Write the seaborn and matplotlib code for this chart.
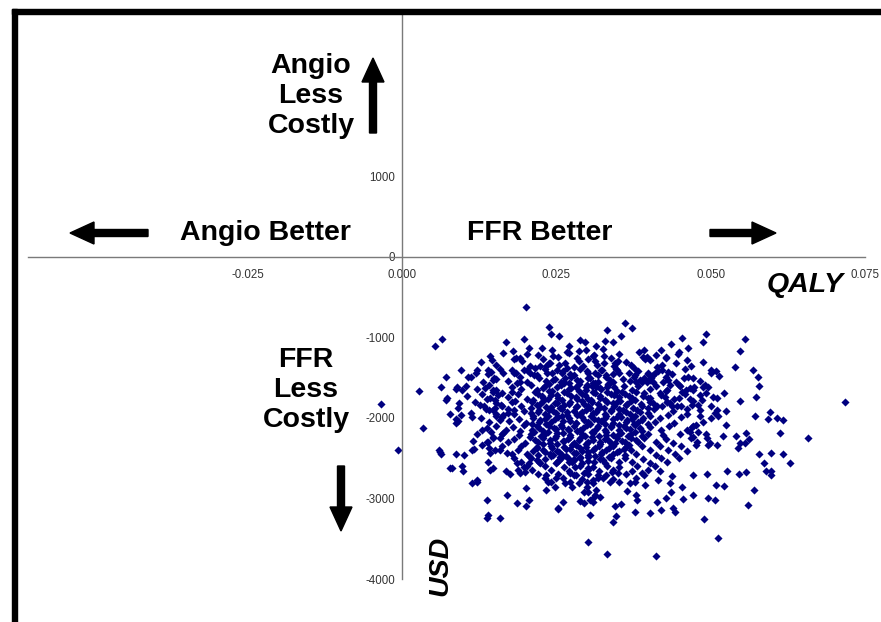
import matplotlib
matplotlib.use("Agg")
import matplotlib.pyplot as plt
import seaborn as sns
import pandas as pd
from matplotlib.patches import FancyArrow, Rectangle
from matplotlib.transforms import IdentityTransform
from matplotlib.ticker import FixedLocator

# --- data (incremental QALY, incremental cost USD) ---
# sparse points, top
top_qaly = [0.0200, 0.0238, 0.0361, 0.0373, 0.0332, 0.0241, 0.0255, 0.0355, 0.0492, 0.0198, 0.0169,
            0.0064, 0.0053, 0.0288, 0.0297, 0.0342, 0.0328, 0.0454, 0.0487, 0.0435, 0.0555]
top_usd = [-625, -878, -828, -882, -910, -960, -985, -985, -960, -1018, -1060,
           -1027, -1105, -1031, -1060, -1060, -1040, -1015, -1064, -1085, -1018]

upper_qaly = [0.0180, 0.0463, 0.0449, 0.0547, 0.0392, 0.0420, 0.0325, 0.0181, 0.0191, 0.0205,
              0.0203, 0.0227, 0.0229, 0.0243, 0.0244, 0.0240, 0.0224, 0.0270, 0.0271, 0.0264,
              0.0267, 0.0284, 0.0287, 0.0298, 0.0293, 0.0314, 0.0311, 0.0313, 0.0143, 0.0146,
              0.0390, 0.0397, 0.0427, 0.0462, 0.0327, 0.0540, 0.0421, 0.0350, 0.0345, 0.0346]
upper_usd = [-1168, -1130, -1184, -1172, -1159, -1155, -1146, -1271, -1259, -1134,
             -1205, -1134, -1271, -1155, -1238, -1321, -1362, -1114, -1196, -1321,
             -1383, -1259, -1176, -1155, -1362, -1114, -1217, -1300, -1230, -1288,
             -1250, -1250, -1259, -1288, -1230, -1366, -1341, -1300, -1321, -1313]

right_qaly = [0.0569, 0.0577, 0.0579, 0.0573, 0.0548, 0.0571, 0.0596, 0.0593, 0.0608, 0.0617,
              0.0613, 0.0658, 0.0717, 0.0500, 0.0501, 0.0513, 0.0491, 0.0495, 0.0511, 0.0501,
              0.0525, 0.0507, 0.0512, 0.0524, 0.0541, 0.0558, 0.0562, 0.0556, 0.0483, 0.0477,
              0.0469, 0.0494, 0.0496, 0.0511]
right_usd = [-1403, -1494, -1602, -1735, -1789, -1975, -1929, -2016, -2000, -2021,
             -2186, -2244, -1805, -1407, -1445, -1478, -1594, -1611, -1755, -1859,
             -1909, -1941, -1983, -2090, -2223, -2182, -2260, -2314, -1983, -2087,
             -2108, -2252, -2335, -2335]

midright_qaly = [0.0456, 0.0464, 0.0443, 0.0434, 0.0429, 0.0450, 0.0460, 0.0467, 0.0473, 0.0449,
                 0.0466, 0.0483, 0.0445, 0.0462, 0.0469, 0.0415, 0.0407, 0.0402, 0.0431, 0.0431,
                 0.0375, 0.0378, 0.0386, 0.0348, 0.0375, 0.0388, 0.0379, 0.0399, 0.0403, 0.0407,
                 0.0410, 0.0418, 0.0426, 0.0429, 0.0434, 0.0437, 0.0402, 0.0407, 0.0413, 0.0453,
                 0.0493, 0.0486, 0.0480, 0.0510]
midright_usd = [-1507, -1494, -1549, -1590, -1652, -1602, -1652, -1631, -1619, -1755,
                -1768, -1714, -1859, -1892, -1838, -1424, -1466, -1528, -1437, -1528,
                -1383, -1466, -1528, -1403, -1487, -1549, -1549, -1445, -1507, -1549,
                -1445, -1686, -1735, -1797, -1817, -1859, -1755, -1817, -1859, -1673,
                -1693, -1776, -1838, -1900]

left_qaly = [-0.0034, 0.0028, 0.0034, 0.0063, 0.0071, 0.0073, 0.0071, 0.0078, 0.0087, 0.0090,
             0.0089, 0.0087, 0.0096, 0.0093, 0.0097, 0.0106, 0.0107, 0.0119, 0.0111, 0.0113,
             0.0115, 0.0127, 0.0134, 0.0137, 0.0136, 0.0140, 0.0144, 0.0148, 0.0147, 0.0151,
             0.0153, 0.0158, 0.0137, 0.0144, 0.0148, 0.0153, 0.0164, 0.0091, 0.0095, 0.0148,
             0.0151, 0.0156, 0.0148, 0.0162, 0.0164, 0.0172, 0.0178, 0.0181]
left_usd = [-1826, -1668, -2132, -1618, -1487, -1755, -1780, -1950, -2012, -2045,
            -1611, -1640, -1403, -1817, -1660, -1726, -1494, -1445, -1941, -1991,
            -2282, -1838, -1631, -1764, -1888, -1403, -1437, -1528, -1652, -1879,
            -1983, -2025, -2128, -2174, -2232, -1519, -1445, -1879, -1962, -1673,
            -1776, -1714, -1900, -1859, -1962, -1941, -1797, -1900]

center_qaly = [0.0178, 0.0185, 0.0186, 0.0178, 0.0191, 0.0202, 0.0207, 0.0215, 0.0218, 0.0233,
               0.0235, 0.0251, 0.0259, 0.0257, 0.0245, 0.0264, 0.0271, 0.0278, 0.0283, 0.0299,
               0.0305, 0.0299, 0.0313, 0.0318, 0.0315, 0.0324, 0.0331, 0.0337, 0.0332, 0.0352]
center_usd = [-1403, -1445, -1569, -1673, -1549, -1403, -1445, -1383, -1466, -1362,
              -1445, -1403, -1445, -1549, -1528, -1507, -1569, -1466, -1528, -1424,
              -1507, -1590, -1445, -1549, -1611, -1403, -1466, -1528, -1611, -1445]

lowleft_qaly = [0.0087, 0.0062, 0.0087, 0.0100, 0.0116, 0.0129, 0.0137, 0.0141, 0.0143, 0.0151,
                0.0159, 0.0164, 0.0081, 0.0097, 0.0099, 0.0113, 0.0121, 0.0122, 0.0140, 0.0143,
                0.0147, 0.0170, 0.0169, 0.0175, 0.0186, 0.0188, 0.0191, 0.0198, 0.0199, 0.0205,
                0.0205, 0.0218, 0.0224, -0.0007, 0.0060, 0.0063, 0.0114, 0.0077]
lowleft_usd = [-2058, -2418, -2447, -2455, -2385, -2335, -2294, -2376, -2438, -2397,
               -2252, -2190, -2617, -2596, -2654, -2803, -2770, -2798, -2542, -2645,
               -2617, -2438, -2654, -2695, -2555, -2645, -2687, -2604, -2666, -2472,
               -2562, -2521, -2562, -2401, -2405, -2451, -2397, -2625]

bottom_qaly = [0.0137, 0.0170, 0.0186, 0.0201, 0.0205, 0.0137, 0.0158, 0.0139, 0.0234, 0.0237,
               0.0233, 0.0248, 0.0250, 0.0253, 0.0261, 0.0264, 0.0275, 0.0272, 0.0278, 0.0286,
               0.0288, 0.0294, 0.0299, 0.0302, 0.0310, 0.0313, 0.0315, 0.0310, 0.0318, 0.0302,
               0.0305, 0.0245, 0.0251, 0.0256, 0.0269, 0.0275, 0.0280, 0.0288, 0.0294, 0.0299,
               0.0200, 0.0301, 0.0332, 0.0342, 0.0252, 0.0294, 0.0304, 0.0310, 0.0320, 0.0345]
bottom_usd = [-3018, -2956, -3052, -2873, -3018, -3245, -3245, -3200, -2708, -2791,
              -2894, -2853, -2749, -3121, -3039, -2811, -2853, -2687, -2708, -2811,
              -3031, -2915, -2853, -2915, -3039, -2956, -2894, -2770, -2708, -2625,
              -3204, -2459, -2542, -2480, -2500, -2542, -2604, -2500, -2687, -2791,
              -3089, -3536, -3689, -3287, -3130, -3060, -3018, -2997, -2977, -3093]

lowright_qaly = [0.0617, 0.0629, 0.0598, 0.0587, 0.0589, 0.0597, 0.0597, 0.0578, 0.0547, 0.0545,
                 0.0558, 0.0546, 0.0526, 0.0522, 0.0508, 0.0570, 0.0561, 0.0520, 0.0499, 0.0480,
                 0.0477, 0.0471, 0.0467, 0.0494, 0.0472, 0.0472, 0.0495, 0.0507, 0.0489, 0.0512,
                 0.0453, 0.0455, 0.0439, 0.0436, 0.0428, 0.0412, 0.0346, 0.0378, 0.0402, 0.0413,
                 0.0419, 0.0355, 0.0364, 0.0379, 0.0380, 0.0394, 0.0388, 0.0415, 0.0418, 0.0434,
                 0.0437, 0.0442, 0.0325, 0.0337, 0.0340, 0.0350, 0.0369, 0.0378]
lowright_usd = [-2447, -2555, -2430, -2555, -2654, -2654, -2708, -2451, -2314, -2376,
                -2666, -2699, -2658, -2844, -2836, -2894, -3076, -2223, -2314, -2170,
                -2335, -2232, -2170, -2699, -2708, -2956, -2989, -3018, -3250, -3490,
                -2861, -3006, -3121, -2915, -2997, -3710, -3217, -3167, -3176, -3039,
                -3142, -3068, -2906, -2956, -3018, -2832, -2687, -2770, -2654, -2811,
                -2716, -3163, -2749, -2791, -2666, -2687, -2811, -2791]

# dense core of the cloud, estimated row by row
core_qaly = [
    0.0163, 0.0221, 0.0268, 0.0309, 0.0352, 0.0384, 0.0412, 0.0447,
    0.0184, 0.0252, 0.0301, 0.0338, 0.0393, 0.0428,
    0.0128, 0.0194, 0.0238, 0.0286, 0.0327, 0.0362, 0.0401, 0.0444, 0.0487,
    0.0152, 0.0208, 0.0254, 0.0279, 0.0316, 0.0343, 0.0371, 0.0413, 0.0468,
    0.0121, 0.0158, 0.0197, 0.0232, 0.0261, 0.0288, 0.0322, 0.0347, 0.0383, 0.0421, 0.0459, 0.0508,
    0.0139, 0.0182, 0.0213, 0.0243, 0.0272, 0.0301, 0.0318, 0.0342, 0.0368, 0.0398, 0.0437,
    0.0112, 0.0149, 0.0191, 0.0222, 0.0248, 0.0273, 0.0302, 0.0331, 0.0358, 0.0392, 0.0428, 0.0471,
    0.0131, 0.0172, 0.0203, 0.0233, 0.0262, 0.0289, 0.0312, 0.0341, 0.0369, 0.0397, 0.0422, 0.0482,
    0.0103, 0.0141, 0.0178, 0.0209, 0.0231, 0.0258, 0.0281, 0.0307, 0.0333, 0.0359, 0.0382, 0.0412, 0.0449, 0.0488,
    0.0122, 0.0153, 0.0192, 0.0218, 0.0243, 0.0271, 0.0298, 0.0322, 0.0348, 0.0373, 0.0401, 0.0428, 0.0472,
    0.0129, 0.0162, 0.0188, 0.0221, 0.0242, 0.0268, 0.0292, 0.0313, 0.0339, 0.0361, 0.0392, 0.0419, 0.0458, 0.0521,
    0.0142, 0.0171, 0.0203, 0.0229, 0.0252, 0.0281, 0.0302, 0.0321, 0.0352, 0.0372, 0.0398, 0.0441, 0.0503,
    0.0118, 0.0152, 0.0183, 0.0211, 0.0229, 0.0251, 0.0272, 0.0291, 0.0308, 0.0332, 0.0349, 0.0371, 0.0402, 0.0429, 0.0472,
    0.0133, 0.0161, 0.0192, 0.0219, 0.0241, 0.0262, 0.0283, 0.0302, 0.0321, 0.0343, 0.0362, 0.0388, 0.0421, 0.0452,
    0.0141, 0.0172, 0.0198, 0.0222, 0.0238, 0.0259, 0.0279, 0.0298, 0.0318, 0.0339, 0.0358, 0.0381, 0.0408, 0.0439, 0.0482,
    0.0152, 0.0181, 0.0209, 0.0231, 0.0249, 0.0268, 0.0289, 0.0309, 0.0328, 0.0351, 0.0369, 0.0398, 0.0431, 0.0462,
    0.0128, 0.0162, 0.0189, 0.0212, 0.0231, 0.0252, 0.0271, 0.0292, 0.0311, 0.0329, 0.0348, 0.0372, 0.0391, 0.0418, 0.0452, 0.0501,
    0.0141, 0.0173, 0.0201, 0.0222, 0.0242, 0.0261, 0.0282, 0.0301, 0.0322, 0.0341, 0.0362, 0.0382, 0.0409, 0.0441, 0.0488,
    0.0152, 0.0179, 0.0198, 0.0219, 0.0238, 0.0259, 0.0278, 0.0299, 0.0318, 0.0338, 0.0359, 0.0378, 0.0402, 0.0432, 0.0471,
    0.0129, 0.0168, 0.0191, 0.0211, 0.0229, 0.0249, 0.0271, 0.0289, 0.0311, 0.0329, 0.0351, 0.0369, 0.0389, 0.0419, 0.0461,
    0.0121, 0.0162, 0.0189, 0.0209, 0.0232, 0.0251, 0.0272, 0.0291, 0.0309, 0.0331, 0.0352, 0.0371, 0.0398, 0.0422, 0.0451, 0.0492,
    0.0148, 0.0181, 0.0208, 0.0228, 0.0248, 0.0269, 0.0288, 0.0308, 0.0329, 0.0348, 0.0371, 0.0392, 0.0428, 0.0468,
    0.0139, 0.0171, 0.0199, 0.0221, 0.0239, 0.0261, 0.0279, 0.0302, 0.0321, 0.0339, 0.0361, 0.0382, 0.0411, 0.0439, 0.0478,
    0.0162, 0.0192, 0.0218, 0.0241, 0.0262, 0.0281, 0.0298, 0.0319, 0.0342, 0.0362, 0.0389, 0.0418, 0.0452,
    0.0158, 0.0188, 0.0212, 0.0229, 0.0251, 0.0272, 0.0292, 0.0309, 0.0331, 0.0352, 0.0371, 0.0402, 0.0431, 0.0462,
    0.0178, 0.0202, 0.0221, 0.0239, 0.0259, 0.0282, 0.0301, 0.0322, 0.0341, 0.0361, 0.0379, 0.0412, 0.0442,
    0.0182, 0.0209, 0.0232, 0.0258, 0.0279, 0.0302, 0.0321, 0.0339, 0.0361, 0.0391, 0.0419, 0.0449,
    0.0193, 0.0222, 0.0249, 0.0271, 0.0292, 0.0311, 0.0329, 0.0352, 0.0372, 0.0401, 0.0429,
    0.0202, 0.0231, 0.0262, 0.0288, 0.0309, 0.0332, 0.0351, 0.0381, 0.0409,
    0.0211, 0.0242, 0.0271, 0.0301, 0.0319, 0.0342, 0.0372, 0.0398,
    0.0221, 0.0252, 0.0281, 0.0302, 0.0331, 0.0362, 0.0392,
    0.0232, 0.0261, 0.0292, 0.0318, 0.0341, 0.0379,
    0.0242, 0.0272, 0.0309, 0.0352,
]
core_usd = [
    -1190, -1215, -1180, -1232, -1205, -1188, -1220, -1210,
    -1262, -1240, -1275, -1255, -1268, -1245,
    -1310, -1295, -1322, -1290, -1315, -1302, -1288, -1320, -1305,
    -1345, -1362, -1338, -1370, -1350, -1358, -1342, -1365, -1352,
    -1405, -1392, -1412, -1398, -1420, -1388, -1409, -1395, -1415, -1402, -1390, -1418,
    -1455, -1440, -1462, -1448, -1458, -1442, -1465, -1450, -1445, -1460, -1452,
    -1498, -1510, -1492, -1505, -1515, -1495, -1508, -1490, -1512, -1502, -1496, -1506,
    -1555, -1542, -1560, -1548, -1558, -1545, -1562, -1550, -1540, -1557, -1552, -1546,
    -1605, -1595, -1612, -1598, -1608, -1590, -1615, -1602, -1594, -1610, -1600, -1606, -1592, -1613,
    -1648, -1660, -1642, -1655, -1665, -1645, -1658, -1640, -1662, -1652, -1646, -1663, -1650,
    -1702, -1692, -1710, -1698, -1712, -1695, -1705, -1690, -1708, -1700, -1694, -1711, -1703, -1697,
    -1755, -1745, -1760, -1748, -1758, -1742, -1762, -1750, -1744, -1757, -1752, -1761, -1746,
    -1798, -1810, -1792, -1805, -1795, -1812, -1800, -1790, -1808, -1797, -1806, -1793, -1809, -1802, -1796,
    -1852, -1842, -1858, -1846, -1860, -1844, -1855, -1848, -1862, -1850, -1843, -1857, -1849, -1859,
    -1902, -1893, -1910, -1898, -1906, -1890, -1912, -1900, -1895, -1908, -1897, -1904, -1892, -1909, -1899,
    -1948, -1958, -1942, -1955, -1945, -1960, -1950, -1940, -1957, -1947, -1953, -1944, -1959, -1951,
    -2002, -1992, -2010, -1998, -2008, -1995, -2005, -1990, -2012, -2000, -1994, -2009, -1997, -2006, -1991, -2004,
    -2052, -2045, -2060, -2048, -2056, -2042, -2058, -2050, -2044, -2062, -2049, -2055, -2046, -2059, -2051,
    -2098, -2108, -2092, -2105, -2095, -2110, -2100, -2090, -2106, -2097, -2103, -2094, -2109, -2099, -2102,
    -2152, -2145, -2158, -2148, -2160, -2142, -2155, -2150, -2162, -2146, -2153, -2144, -2157, -2149, -2156,
    -2202, -2195, -2210, -2198, -2206, -2192, -2208, -2200, -2194, -2212, -2199, -2204, -2196, -2209, -2201, -2197,
    -2248, -2258, -2243, -2255, -2246, -2260, -2250, -2242, -2257, -2247, -2253, -2244, -2259, -2251,
    -2302, -2295, -2310, -2298, -2306, -2292, -2308, -2300, -2294, -2311, -2299, -2304, -2296, -2309, -2301,
    -2352, -2345, -2358, -2348, -2356, -2342, -2360, -2350, -2344, -2357, -2349, -2355, -2346,
    -2402, -2395, -2410, -2398, -2406, -2392, -2408, -2400, -2394, -2411, -2399, -2404, -2396, -2409,
    -2452, -2445, -2458, -2448, -2456, -2442, -2460, -2450, -2444, -2457, -2449, -2455, -2446,
    -2502, -2495, -2510, -2498, -2506, -2492, -2508, -2500, -2494, -2511, -2499, -2504,
    -2552, -2545, -2558, -2548, -2556, -2542, -2560, -2550, -2544, -2557, -2549,
    -2602, -2595, -2610, -2598, -2606, -2592, -2608, -2600, -2594,
    -2652, -2645, -2658, -2648, -2656, -2642, -2660, -2650,
    -2702, -2695, -2710, -2698, -2706, -2692, -2708,
    -2752, -2745, -2758, -2748, -2756, -2742,
    -2802, -2795, -2810, -2798,
]

# the near-solid centre of the cloud
dense_qaly = [
    0.0238, 0.0263, 0.0286, 0.0309, 0.0333,
    0.0228, 0.0251, 0.0274, 0.0298, 0.0321, 0.0344,
    0.0215, 0.0238, 0.0262, 0.0286, 0.0309, 0.0332, 0.0356, 0.0379,
    0.0226, 0.0251, 0.0274, 0.0297, 0.0321, 0.0344, 0.0367, 0.0390,
    0.0212, 0.0236, 0.0259, 0.0283, 0.0306, 0.0329, 0.0353, 0.0377,
    0.0224, 0.0248, 0.0271, 0.0294, 0.0318, 0.0341, 0.0364, 0.0387,
    0.0209, 0.0233, 0.0256, 0.0281, 0.0304, 0.0327, 0.0351, 0.0374, 0.0398,
    0.0221, 0.0245, 0.0268, 0.0292, 0.0315, 0.0338, 0.0362, 0.0385,
    0.0212, 0.0236, 0.0259, 0.0284, 0.0306, 0.0331, 0.0354, 0.0377, 0.0401,
    0.0224, 0.0248, 0.0272, 0.0295, 0.0318, 0.0342, 0.0365, 0.0389,
    0.0211, 0.0234, 0.0258, 0.0281, 0.0305, 0.0328, 0.0352, 0.0375, 0.0398,
    0.0222, 0.0246, 0.0269, 0.0293, 0.0316, 0.0339, 0.0363, 0.0386,
    0.0213, 0.0237, 0.0261, 0.0284, 0.0307, 0.0331, 0.0354, 0.0378,
    0.0225, 0.0249, 0.0272, 0.0296, 0.0319, 0.0342, 0.0366, 0.0389,
    0.0216, 0.0239, 0.0263, 0.0286, 0.0309, 0.0333, 0.0356, 0.0379,
    0.0228, 0.0251, 0.0275, 0.0298, 0.0321, 0.0345, 0.0368,
    0.0219, 0.0243, 0.0266, 0.0289, 0.0313, 0.0336, 0.0359,
    0.0231, 0.0254, 0.0278, 0.0301, 0.0324, 0.0348,
    0.0242, 0.0266, 0.0289, 0.0312, 0.0336,
    0.0254, 0.0278, 0.0301, 0.0325,
]
dense_usd = [
    -1578, -1571, -1583, -1569, -1580,
    -1627, -1619, -1632, -1622, -1630, -1618,
    -1678, -1671, -1683, -1669, -1680, -1673, -1685, -1676,
    -1727, -1720, -1733, -1722, -1729, -1718, -1731, -1724,
    -1778, -1771, -1783, -1769, -1780, -1773, -1785, -1776,
    -1827, -1820, -1833, -1822, -1829, -1818, -1831, -1824,
    -1878, -1871, -1883, -1869, -1880, -1873, -1885, -1876, -1872,
    -1927, -1920, -1933, -1922, -1929, -1918, -1931, -1924,
    -1978, -1971, -1983, -1969, -1980, -1973, -1985, -1976, -1972,
    -2027, -2020, -2033, -2022, -2029, -2018, -2031, -2024,
    -2078, -2071, -2083, -2069, -2080, -2073, -2085, -2076, -2072,
    -2127, -2120, -2133, -2122, -2129, -2118, -2131, -2124,
    -2178, -2171, -2183, -2169, -2180, -2173, -2185, -2176,
    -2227, -2220, -2233, -2222, -2229, -2218, -2231, -2224,
    -2278, -2271, -2283, -2269, -2280, -2273, -2285, -2276,
    -2327, -2320, -2333, -2322, -2329, -2318, -2331,
    -2378, -2371, -2383, -2369, -2380, -2373, -2385,
    -2427, -2420, -2433, -2422, -2429, -2418,
    -2478, -2471, -2483, -2469, -2480,
    -2527, -2520, -2533, -2522,
]

x_ticks = [-0.025, 0.0, 0.025, 0.050, 0.075]
x_labels = ["-0.025", "0.000", "0.025", "0.050", "0.075"]
y_ticks = [-4000, -3000, -2000, -1000, 0, 1000]
y_labels = ["-4000", "-3000", "-2000", "-1000", "0", "1000"]
y_minor = [-3500, -2500, -1500, -500, 500]

qaly = (top_qaly + upper_qaly + right_qaly + midright_qaly + left_qaly + center_qaly
        + lowleft_qaly + bottom_qaly + lowright_qaly + core_qaly + dense_qaly)
usd = (top_usd + upper_usd + right_usd + midright_usd + left_usd + center_usd
       + lowleft_usd + bottom_usd + lowright_usd + core_usd + dense_usd)
df = pd.DataFrame({"qaly": qaly, "usd": usd})

sns.set_style("white")
plt.rcParams["font.family"] = ["Liberation Sans", "DejaVu Sans"]
W, H = 881, 622

fig = plt.figure(figsize=(W / 100, H / 100), dpi=100)
ax = fig.add_axes([28 / W, 1 - 579 / H, (865 - 28) / W, (579 - 15) / H])
ax.patch.set_alpha(0)

sns.scatterplot(data=df, x="qaly", y="usd", marker="D", s=17, color="#000080",
                linewidth=0, ax=ax)

ax.set_xlim(-0.0606, 0.075)
ax.set_ylim(-4000, 3000)
ax.set_xlabel("")
ax.set_ylabel("")

# axes cross at the origin
for side in ["top", "right"]:
    ax.spines[side].set_visible(False)
ax.spines["left"].set_position(("data", 0))
ax.spines["bottom"].set_position(("data", 0))
for side in ["left", "bottom"]:
    ax.spines[side].set_color("#7a7a7a")
    ax.spines[side].set_linewidth(1.0)

ax.set_xticks(x_ticks)
ax.set_xticklabels(x_labels)
ax.set_yticks(y_ticks)
ax.set_yticklabels(y_labels)
ax.yaxis.set_minor_locator(FixedLocator(y_minor))
ax.tick_params(axis="both", which="both", direction="out", length=3.6, width=1,
               color="#7a7a7a", labelcolor="#333333", labelsize=8.3)
ax.tick_params(axis="x", pad=5)
ax.tick_params(axis="y", pad=1.5)

# quadrant annotations
bold = dict(fontsize=20.5, fontweight="bold", color="black", ha="center", va="center")
fig.text(311 / W, 1 - 96 / H, "Angio\nLess\nCostly", linespacing=1.2, **bold)
fig.text(306 / W, 1 - 390 / H, "FFR\nLess\nCostly", linespacing=1.2, **bold)
fig.text(265 / W, 1 - 233 / H, "Angio Better", **bold)
fig.text(540 / W, 1 - 233 / H, "FFR Better", **bold)
fig.text(805 / W, 1 - 285 / H, "QALY", style="italic", **bold)
fig.text(440 / W, 1 - 566 / H, "USD", style="italic", rotation=90, **bold)

# thick arrows (pixel coordinates)
arrow_kw = dict(width=7, head_width=22, head_length=24, length_includes_head=True,
                color="black", transform=IdentityTransform())
fig.add_artist(FancyArrow(148, H - 233, -78, 0, **arrow_kw))
fig.add_artist(FancyArrow(710, H - 233, 66, 0, **arrow_kw))
fig.add_artist(FancyArrow(373, H - 133, 0, 75, **arrow_kw))
fig.add_artist(FancyArrow(341, H - 466, 0, -65, **arrow_kw))

# slide frame
fig.add_artist(Rectangle((12, H - 14), W - 12, 5, color="black", transform=IdentityTransform()))
fig.add_artist(Rectangle((12, 0), 5, H - 9, color="black", transform=IdentityTransform()))

fig.savefig("out.png", dpi=100)
